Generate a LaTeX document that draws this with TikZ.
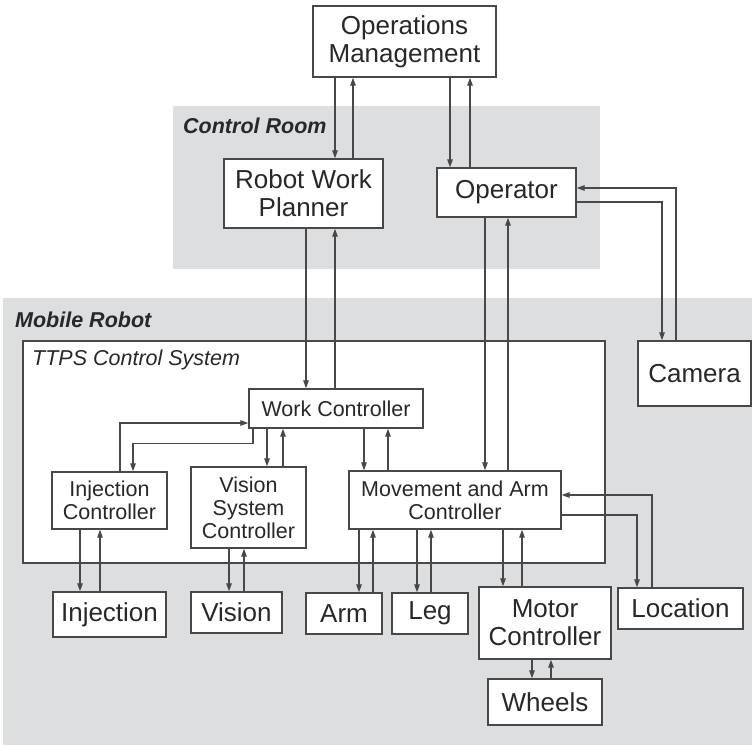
\documentclass[tikz,border=0pt]{standalone}
\usepackage{fontspec}
\setmainfont{Liberation Sans}
\usetikzlibrary{arrows.meta}
\definecolor{shadegray}{RGB}{221,222,224}
\definecolor{ln}{RGB}{72,72,72}
\definecolor{txt}{RGB}{40,40,40}
\begin{document}
\begin{tikzpicture}[x=1pt,y=-1pt,
  box/.style={draw=ln, line width=1.4pt, fill=white, inner sep=0pt, align=center, text=txt},
  big/.style={font=\fontsize{26}{28}\selectfont},
  small/.style={font=\fontsize{21.5}{23}\selectfont},
  conn/.style={draw=ln, line width=1.3pt, -{Triangle[length=8pt,width=5.5pt]}},
  lbl/.style={anchor=base west, inner sep=0pt, text=txt, font=\fontsize{21.5}{23}\selectfont\bfseries\itshape},
]
\useasboundingbox (0,0) rectangle (752,745);
% shaded regions
\fill[shadegray] (173,106) rectangle (600,269);
\fill[shadegray] (3,298) rectangle (752,745);
\node[lbl] (crl) at (183,133) {Control Room};
\node[lbl] (mrl) at (15,327) {Mobile Robot};
% TTPS box
\node[box, minimum width=582pt, minimum height=222pt] (ttps) at (314,452) {};
\node[lbl, font=\fontsize{21.5}{23}\selectfont\itshape] (ttpsl) at (32,365) {TTPS Control System};
% nodes
\node[box,big,minimum width=183pt,minimum height=71pt] (om) at (404.5,41.5) {Operations\\Management};
\node[box,big,minimum width=159pt,minimum height=69pt] (rwp) at (303.5,193.5) {Robot Work\\Planner};
\node[box,big,minimum width=139pt,minimum height=49pt] (op) at (506.5,192.5) {Operator};
\node[box,big,minimum width=113pt,minimum height=65pt] (cam) at (694.5,373.5) {Camera};
\node[box,small,minimum width=174pt,minimum height=39pt] (wc) at (336,408.5) {Work Controller};
\node[box,small,minimum width=115pt,minimum height=57pt] (ic) at (109.5,500.5) {Injection\\Controller};
\node[box,small,minimum width=115pt,minimum height=81pt] (vsc) at (248.5,507.5) {Vision\\System\\Controller};
\node[box,small,minimum width=212pt,minimum height=58pt] (mac) at (455,500) {Movement and Arm\\Controller};
\node[box,big,minimum width=113pt,minimum height=45pt] (inj) at (109.5,614.5) {Injection};
\node[box,big,minimum width=91pt,minimum height=41pt] (vis) at (236.5,612.5) {Vision};
\node[box,big,minimum width=76pt,minimum height=41pt] (arm) at (344,613.5) {Arm};
\node[box,big,minimum width=76pt,minimum height=41pt] (leg) at (430,613.5) {Leg};
\node[box,big,minimum width=132pt,minimum height=72pt] (mc) at (545,623) {Motor\\Controller};
\node[box,big,minimum width=114pt,minimum height=46pt] (wh) at (545,702) {Wheels};
\node[box,big,minimum width=125pt,minimum height=41pt] (loc) at (680.5,608.5) {Location};
% connectors
\draw[conn] (om.south -| 335,0) -- (rwp.north -| 335,0);
\draw[conn] (rwp.north -| 353,0) -- (om.south -| 353,0);
\draw[conn] (om.south -| 450,0) -- (op.north -| 450,0);
\draw[conn] (op.north -| 470,0) -- (om.south -| 470,0);
\draw[conn] (rwp.south -| 306,0) -- (wc.north -| 306,0);
\draw[conn] (wc.north -| 335,0) -- (rwp.south -| 335,0);
\draw[conn] (op.south -| 485,0) -- (mac.north -| 485,0);
\draw[conn] (mac.north -| 508,0) -- (op.south -| 508,0);
\draw[conn] (op.east |- 0,202) -| (cam.north -| 662,0);
\draw[conn] (cam.north -| 676,0) |- (op.east |- 0,188);
\draw[conn] (wc.south -| 253,0) -- ++(0,15) -| (ic.north -| 133,0);
\draw[conn] (ic.north -| 120,0) |- (wc.west |- 0,423);
\draw[conn] (wc.south -| 267,0) -- (vsc.north -| 267,0);
\draw[conn] (vsc.north -| 283,0) -- (wc.south -| 283,0);
\draw[conn] (wc.south -| 364,0) -- (mac.north -| 364,0);
\draw[conn] (mac.north -| 388,0) -- (wc.south -| 388,0);
\draw[conn] (mac.east |- 0,515) -| (loc.north -| 637,0);
\draw[conn] (loc.north -| 652,0) |- (mac.east |- 0,495);
\draw[conn] (ic.south -| 80,0) -- (inj.north -| 80,0);
\draw[conn] (inj.north -| 100,0) -- (ic.south -| 100,0);
\draw[conn] (vsc.south -| 229,0) -- (vis.north -| 229,0);
\draw[conn] (vis.north -| 244,0) -- (vsc.south -| 244,0);
\draw[conn] (mac.south -| 359,0) -- (arm.north -| 359,0);
\draw[conn] (arm.north -| 373,0) -- (mac.south -| 373,0);
\draw[conn] (mac.south -| 417,0) -- (leg.north -| 417,0);
\draw[conn] (leg.north -| 431,0) -- (mac.south -| 431,0);
\draw[conn] (mac.south -| 503,0) -- (mc.north -| 503,0);
\draw[conn] (mc.north -| 522,0) -- (mac.south -| 522,0);
\draw[conn] (mc.south -| 532,0) -- (wh.north -| 532,0);
\draw[conn] (wh.north -| 551,0) -- (mc.south -| 551,0);
\end{tikzpicture}
\end{document}
